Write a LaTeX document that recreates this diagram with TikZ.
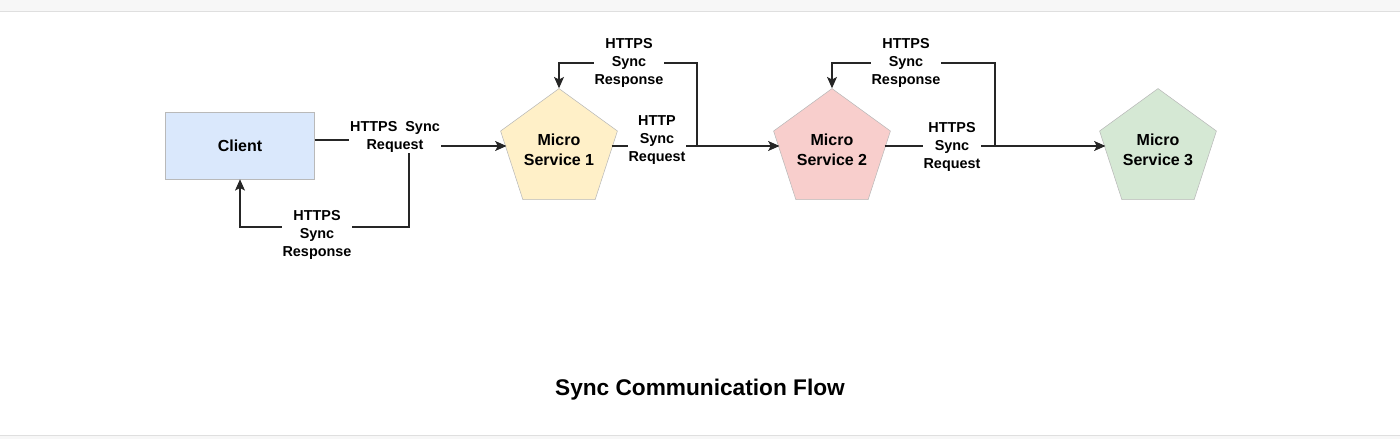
\documentclass[tikz,border=0pt]{standalone}
\usepackage{fontspec}
\setmainfont{Liberation Sans}
\usetikzlibrary{shapes.geometric, arrows.meta}

\definecolor{clientblue}{HTML}{DAE8FC}
\definecolor{msyellow}{HTML}{FFF0C8}
\definecolor{msred}{HTML}{F8CECC}
\definecolor{msgreen}{HTML}{D5E8D4}

\begin{document}
\begin{tikzpicture}[x=0.75pt, y=-0.75pt, >={Stealth[length=8.5pt, width=7.5pt, inset=2pt]},
  link/.style={draw=black!85, line width=0.95pt},
  flowlabel/.style={fill=white, inner sep=0.8pt, align=center,
    font=\fontsize{10.8}{13.2}\selectfont\bfseries},
  service/.style={regular polygon, regular polygon sides=5, minimum size=88.5pt,
    inner sep=0pt, align=center, draw=gray!55, font=\fontsize{12}{15}\selectfont\bfseries}
]
  \useasboundingbox (0,0) rectangle (1400,439);

  % ==========================================
  % Bandes du cadre (haut et bas)
  % ==========================================
  \fill[gray!6] (0,0) rectangle (1400,11);
  \draw[gray!25] (0,11) -- (1400,11);
  \fill[gray!6] (0,435) rectangle (1400,439);
  \draw[gray!25] (0,435) -- (1400,435);

  % ==========================================
  % Client et services
  % ==========================================
  \node[draw=gray!55, fill=clientblue, minimum width=111.75pt, minimum height=50.25pt,
    font=\fontsize{12}{15}\selectfont\bfseries] (client) at (240,145.5) {Client};

  \node[service, fill=msyellow] (ms1) at (559,150) {Micro\\Service 1};
  \node[service, fill=msred]    (ms2) at (832,150) {Micro\\Service 2};
  \node[service, fill=msgreen]  (ms3) at (1158,150) {Micro\\Service 3};

  % Points de passage des liens
  \coordinate (bend_c) at (409,140);
  \coordinate (split_c) at (409,146);
  \coordinate (down_c) at (409,227);
  \coordinate (split_1) at (697,146);
  \coordinate (up_1) at (697,63);
  \coordinate (split_2) at (995,146);
  \coordinate (up_2) at (995,63);

  % ==========================================
  % Client <-> Micro Service 1
  % ==========================================
  \draw[link, ->] (client.east |- bend_c) -- (bend_c) -- (split_c) -- (ms1.west |- split_c);
  \draw[link, ->] (split_c) -- (down_c) -| (client.south);
  \node[flowlabel] (req_c) at (395,137) {HTTPS\ \ Sync\\Request};
  \node[flowlabel] (resp_c) at (317,235) {HTTPS\\Sync\\Response};

  % ==========================================
  % Micro Service 1 <-> Micro Service 2
  % ==========================================
  \draw[link, ->] (ms1.east |- split_1) -- (ms2.west |- split_1);
  \draw[link, ->] (split_1) -- (up_1) -| (ms1.north);
  \node[flowlabel] (req_1) at (657,140) {HTTP\\Sync\\Request};
  \node[flowlabel] (resp_1) at (629,63) {HTTPS\\Sync\\Response};

  % ==========================================
  % Micro Service 2 <-> Micro Service 3
  % ==========================================
  \draw[link, ->] (ms2.east |- split_2) -- (ms3.west |- split_2);
  \draw[link, ->] (split_2) -- (up_2) -| (ms2.north);
  \node[flowlabel] (req_2) at (952,147) {HTTPS\\Sync\\Request};
  \node[flowlabel] (resp_2) at (906,63) {HTTPS\\Sync\\Response};

  % Titre
  \node[anchor=base, font=\fontsize{17}{20}\selectfont\bfseries] (title) at (700,395) {Sync Communication Flow};

\end{tikzpicture}
\end{document}
